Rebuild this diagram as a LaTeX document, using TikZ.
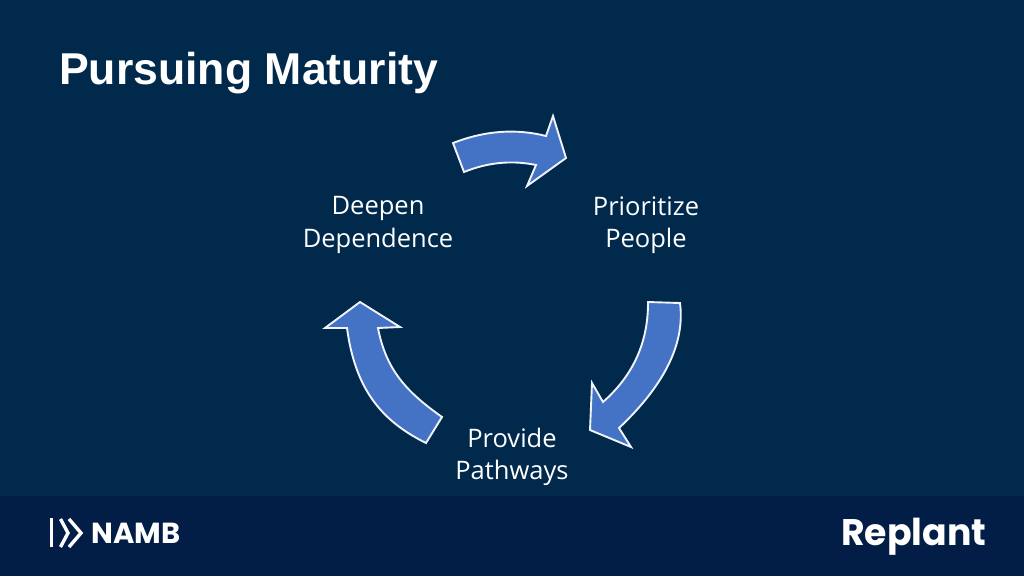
\documentclass[tikz,border=0pt]{standalone}
\usepackage{fontspec}
\setmainfont{Open Sans}
\newfontfamily\titlefont{Liberation Sans}
\newfontfamily\logofont{Poppins}

\definecolor{slidebg}{RGB}{1,41,76}
\definecolor{footerbg}{RGB}{3,30,70}
\definecolor{cyclefill}{RGB}{68,114,196}

\tikzset{
  cyclearrow/.style={draw=white!92!cyclefill,fill=cyclefill,line width=1.9pt,line join=miter},
  steplabel/.style={text=white,align=center,inner sep=0pt,font=\fontsize{25.5}{32.5}\selectfont},
  logomark/.style={draw=white,line width=3.4pt}
}

\begin{document}
\begin{tikzpicture}[x=1pt,y=-1pt,inner sep=0pt]
      % ここまでをバウンディングボックス内とする
      \fill[slidebg] (0,0) rectangle (1024,576);
      \useasboundingbox (0,0) rectangle (1024,576);
      \fill[footerbg] (0,496) rectangle (1024,576);

      \node[anchor=west,text=white,font=\titlefont\bfseries\fontsize{44.6}{50}\selectfont] (title) at (59,73){%
        Pursuing Maturity};

      % cycle arrows
      \draw[cyclearrow] (453,143) .. controls (484.7,130.7) and (515.7,128.3) .. (546,136)
        -- (553,116) -- (566,158) -- (527,186) -- (536,165)
        .. controls (512,160) and (488,162.3) .. (464,172) -- cycle;
      \draw[cyclearrow] (648,302) -- (680,303)
        .. controls (685,341.3) and (666.7,383) .. (619,428)
        -- (631,447) -- (590,430) -- (592,383) -- (603,402)
        .. controls (633.3,375.3) and (648.3,342) .. (648,302) -- cycle;
      \draw[cyclearrow] (442,417) -- (426,443)
        .. controls (381.7,421) and (355.3,389.7) .. (347,328)
        -- (325,328) -- (360,302) -- (400,327) -- (378,328)
        .. controls (386,370) and (406.7,392) .. (442,417) -- cycle;

      \node[steplabel] (prioritize) at (646,225){Prioritize \\ People};
      \node[steplabel] (pathways) at (512,457){Provide \\ Pathways};
      \node[steplabel] (dependence) at (378,225){Deepen \\ Dependence};

      % footer logos
      \draw[logomark] (51.5,518) -- (51.5,547);
      \draw[logomark] (60.5,519) -- (68,533) -- (60.5,547);
      \draw[logomark] (69,519) -- (81,533) -- (69,547);
      \node[anchor=west,text=white,font=\logofont\bfseries\fontsize{29}{30}\selectfont] (namb) at (91,533){NAMB};
      \node[anchor=west,text=white,xscale=0.98,font=\logofont\bfseries\fontsize{37}{40}\selectfont] (replant) at (841,537){Replant};
    \end{tikzpicture}
\end{document}
